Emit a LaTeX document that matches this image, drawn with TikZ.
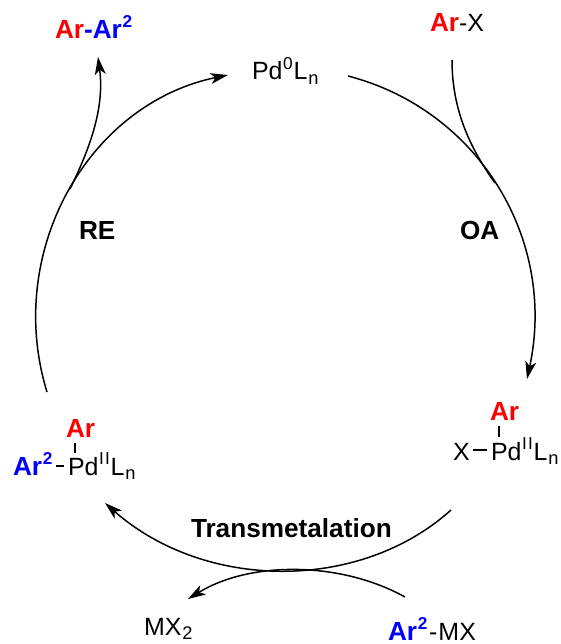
\documentclass[tikz,border=0pt]{standalone}
\usepackage{fontspec}
\setmainfont{Liberation Sans}
\usetikzlibrary{arrows.meta}
\definecolor{arred}{RGB}{255,0,0}
\definecolor{arblue}{RGB}{0,0,255}
\newcommand{\reg}{\fontsize{14.2pt}{15pt}\selectfont}
\newcommand{\bld}{\fontsize{14.9pt}{16pt}\selectfont\bfseries}
\newcommand{\up}[1]{\kern0.4pt\raisebox{0.42em}{\fontsize{9.8pt}{10pt}\selectfont #1}\kern0.4pt}
\newcommand{\dn}[1]{\kern0.5pt\raisebox{-0.2em}{\fontsize{10.4pt}{10pt}\selectfont #1}}
\newcommand{\ArR}{{\color{arred}\bld Ar}}
\newcommand{\ArB}{{\color{arblue}\bld Ar\up{2}}}
\newcommand{\PdII}{Pd\up{I\kern0.6pt I}L\dn{n}}
\tikzset{
  lab/.style={anchor=base west,inner sep=0pt,outer sep=0pt,font=\reg},
  blab/.style={anchor=base west,inner sep=0pt,outer sep=0pt,font=\bld},
  cyc/.style={line width=0.85pt,black},
  arr/.style={cyc,-{Stealth[length=10pt,width=6.2pt,inset=2.6pt]}},
  bond/.style={line width=0.6pt,black}
}
\begin{document}
\begin{tikzpicture}[x=0.02cm,y=-0.02cm]
\useasboundingbox (0,0) rectangle (560,644);
% labels
\node[lab] (prod) at (55,39) {\ArR{\color{arblue}\bld -}\ArB};
\node[lab] (pd0) at (252,80) {Pd\up{0}L\dn{n}};
\node[lab] (arx) at (430,32) {\ArR-X};
\node[blab] (re) at (79,240) {RE};
\node[blab] (oa) at (460,240) {OA};
\node[blab] (tm) at (191,537) {Transmetalation};
\node[lab] (mx2) at (144,635) {MX\dn{2}};
\node[lab] (armx) at (388,640) {\ArB\kern0.6pt-\kern0.6pt MX};
% left complex
\node[blab] (arl) at (66,437) {\color{arred}Ar};
\node[lab] (arbl) at (13,475) {\ArB};
\node[lab] (pdl) at (68,475) {\PdII};
% right complex
\node[blab] (arr2) at (490,420) {\color{arred}Ar};
\node[lab] (xr) at (453,460) {X};
\node[lab] (pdr) at (491,460) {\PdII};
% connector ends
\coordinate (a1) at (348,76);
\coordinate (a2) at (527,379);
\coordinate (b1) at (451,510);
\coordinate (b2) at (105,503);
\coordinate (c1) at (47,392);
\coordinate (c2) at (228,75);
\coordinate (d1) at (70,189);
\coordinate (d2) at (98,57);
\coordinate (e1) at (452,60);
\coordinate (e2) at (495,183);
\coordinate (f1) at (405,597);
\coordinate (f2) at (188,599);
% cycle
\draw[arr] (a1) .. controls (479,110) and (557,240) .. (a2);
\draw[arr] (b1) .. controls (360,592) and (205,591) .. (b2);
\draw[arr] (c1) .. controls (4,252) and (88,104) .. (c2);
\draw[arr] (d1) .. controls (88,152) and (105,110) .. (d2);
\draw[cyc] (e1) .. controls (452,110) and (470,148) .. (e2);
\draw[arr] (f1) .. controls (340,561) and (250,561) .. (f2);
% bonds
\coordinate (l1) at (75,443); \coordinate (l2) at (75,453);
\coordinate (l3) at (56,466); \coordinate (l4) at (64,466);
\coordinate (r1) at (499,426); \coordinate (r2) at (499,437);
\coordinate (r3) at (473,450); \coordinate (r4) at (487,450);
\draw[bond] (l1) -- (l2);
\draw[bond] (l3) -- (l4);
\draw[bond] (r1) -- (r2);
\draw[bond] (r3) -- (r4);
\end{tikzpicture}
\end{document}
